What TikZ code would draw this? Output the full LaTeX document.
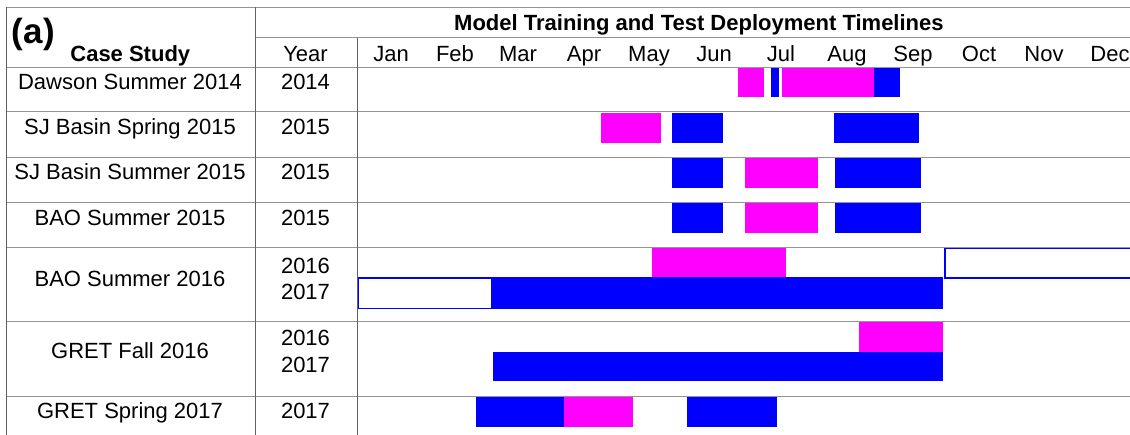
\documentclass[tikz,border=0pt]{standalone}
\usepackage{fontspec}
\setmainfont{Liberation Sans}
\definecolor{mag}{RGB}{255,0,255}
\definecolor{blu}{RGB}{0,0,255}
\tikzset{
  txt/.style={font=\fontsize{22}{26}\selectfont, inner sep=0pt, anchor=base},
  boldtxt/.style={font=\fontsize{22}{26}\selectfont\bfseries, inner sep=0pt, anchor=base},
  vline/.style={draw=black!62, line width=1pt},
  hline/.style={draw=black!42, line width=1pt},
  train/.style={fill=mag},
  test/.style={fill=blu},
  openbar/.style={draw=blu, line width=1.6pt},
}
\begin{document}
\begin{tikzpicture}[x=1pt,y=-1pt]
\useasboundingbox (0,0) rectangle (1130,435);
% grid lines
\draw[hline] (6.7,7.3) -- (1130,7.3);
\draw[hline] (255,37.7) -- (1130,37.7);
\foreach \yy in {67.7,112,158,203,248,321.5,396.7}
  \draw[hline] (6.7,\yy) -- (1130,\yy);
\draw[vline] (6.7,7.3) -- (6.7,435);
\draw[vline] (255,7.3) -- (255,435);
\draw[vline] (357.3,37.7) -- (357.3,435);
% header texts
\node[font=\fontsize{35}{40}\selectfont\bfseries, inner sep=0pt, anchor=base] (lab) at (33.3,43.3) {(a)};
\node[boldtxt] (hcase) at (130.3,61.5) {Case Study};
\node[txt] (hyear) at (305.5,61.5) {Year};
\node[boldtxt] (title) at (698.9,30.7) {Model Training and Test Deployment Timelines};
\foreach \m/\cx [count=\i] in {Jan/391,Feb/455,Mar/518,Apr/584,May/649,Jun/714,Jul/781,Aug/847,Sep/913,Oct/979,Nov/1044,Dec/1110}
  \node[txt] (m\i) at (\cx,61.5) {\m};
% row labels
\node[txt] (c1) at (130,90) {Dawson Summer 2014};
\node[txt] (y1) at (305.5,90) {2014};
\node[txt] (c2) at (130,135) {SJ Basin Spring 2015};
\node[txt] (y2) at (305.5,135) {2015};
\node[txt] (c3) at (130,180) {SJ Basin Summer 2015};
\node[txt] (y3) at (305.5,180) {2015};
\node[txt] (c4) at (130,225.5) {BAO Summer 2015};
\node[txt] (y4) at (305.5,225.5) {2015};
\node[txt] (c5) at (130,286.7) {BAO Summer 2016};
\node[txt] (y5a) at (305.5,273.3) {2016};
\node[txt] (y5b) at (305.5,300) {2017};
\node[txt] (c6) at (130,359) {GRET Fall 2016};
\node[txt] (y6a) at (305.5,345.7) {2016};
\node[txt] (y6b) at (305.5,372.3) {2017};
\node[txt] (c7) at (130,419) {GRET Spring 2017};
\node[txt] (y7) at (305.5,419) {2017};
% row 1
\fill[train] (738.3,67.7) rectangle (763.8,97.3);
\fill[test]  (770.8,67.7) rectangle (779.2,97.3);
\fill[train] (781.5,67.7) rectangle (874.2,97.3);
\fill[test]  (874.2,67.7) rectangle (899.5,97.3);
% row 2
\fill[train] (600.7,113.3) rectangle (660.5,142.7);
\fill[test]  (671.7,113.3) rectangle (722.8,142.7);
\fill[test]  (833.5,113.3) rectangle (918.9,142.7);
% row 3
\fill[test]  (671.7,158.3) rectangle (722.8,187.7);
\fill[train] (745.2,158.3) rectangle (817.6,187.7);
\fill[test]  (835.3,158.3) rectangle (921,187.7);
% row 4
\fill[test]  (671.7,203.3) rectangle (722.8,233);
\fill[train] (745.2,203.3) rectangle (817.6,233);
\fill[test]  (835.3,203.3) rectangle (921,233);
% row 5
\fill[train] (652.3,248.3) rectangle (786,277.3);
\fill[test]  (491.7,277.3) rectangle (943.4,309.3);
\draw[openbar] (358.6,278.2) rectangle (491.7,308.6);
\draw[openbar] (1140,248.5) -- (945.2,248.5) -- (945.2,278) -- (1140,278);
% row 6
\fill[train] (859,321.7) rectangle (942.7,351.7);
\fill[test]  (493.3,351.7) rectangle (943.4,381);
% row 7
\fill[test]  (475.7,396.7) rectangle (564,426.7);
\fill[train] (564,396.7) rectangle (632.7,426.7);
\fill[test]  (686.7,396.7) rectangle (776.7,426.7);
\end{tikzpicture}
\end{document}
